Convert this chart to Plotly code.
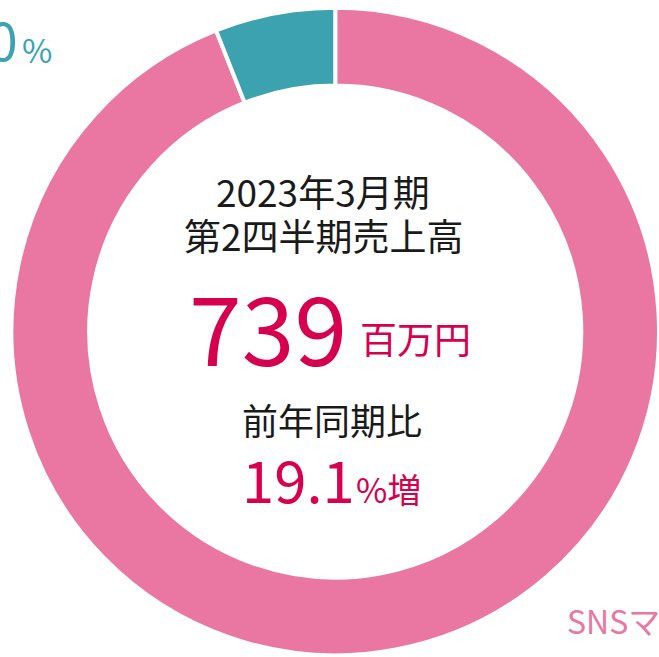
import plotly.graph_objects as go

# Data
segments = ["SNSマーケティング事業", "その他"]
shares = [94.0, 6.0]
colors = ["#EA76A2", "#3CA2AF"]

period_line1 = "2023年3月期"
period_line2 = "第2四半期売上高"
sales_value = "739"
sales_unit = "百万円"
yoy_label = "前年同期比"
yoy_value = "19.1"
yoy_unit = "%増"
other_label_value = "6.0"
main_label = "SNSマーケティング事業"

W, H = 659, 657
JP = "Noto Sans CJK JP"
RED = "#D6004F"
BLACK = "#1a1a1a"


def px(x):
    return x / W


def py(y):
    return 1 - y / H


fig = go.Figure(
    go.Pie(
        labels=segments,
        values=shares,
        marker=dict(colors=colors, line=dict(color="white", width=4)),
        hole=0.76,
        sort=False,
        direction="clockwise",
        rotation=0,
        textinfo="none",
        hoverinfo="label+percent",
        domain=dict(x=[px(11.5), 1.0], y=[py(656), py(7)]),
        showlegend=False,
    )
)

ann = []


def add(text, x, y, size, color, xanchor="center"):
    ann.append(
        dict(
            text=text,
            x=px(x),
            y=py(y),
            xref="paper",
            yref="paper",
            xanchor=xanchor,
            yanchor="middle",
            showarrow=False,
            font=dict(family=JP, size=size, color=color),
        )
    )


add(period_line1, 323, 191, 37, BLACK)
add(period_line2, 324, 235, 37, BLACK)
add(sales_value, 349, 324, 95, RED, "right")
add(sales_unit, 358, 338, 37, RED, "left")
add(yoy_label, 331.5, 418.5, 36, BLACK)
add(yoy_value, 357, 478, 58, RED, "right")
add(yoy_unit, 354, 488, 34, RED, "left")
add(other_label_value, 20, 38, 53, "#3CA2AF", "right")
add("%", 20, 49.5, 33, "#3CA2AF", "left")
add(main_label, 565, 620, 32, "#EA76A2", "left")

fig.update_layout(
    width=W,
    height=H,
    autosize=False,
    margin=dict(l=0, r=0, t=0, b=0),
    paper_bgcolor="white",
    plot_bgcolor="white",
    annotations=ann,
)

fig.write_html(
    "out.html",
    config={"displayModeBar": False},
    post_script="document.body.style.margin='0';document.body.style.overflow='hidden';",
)
